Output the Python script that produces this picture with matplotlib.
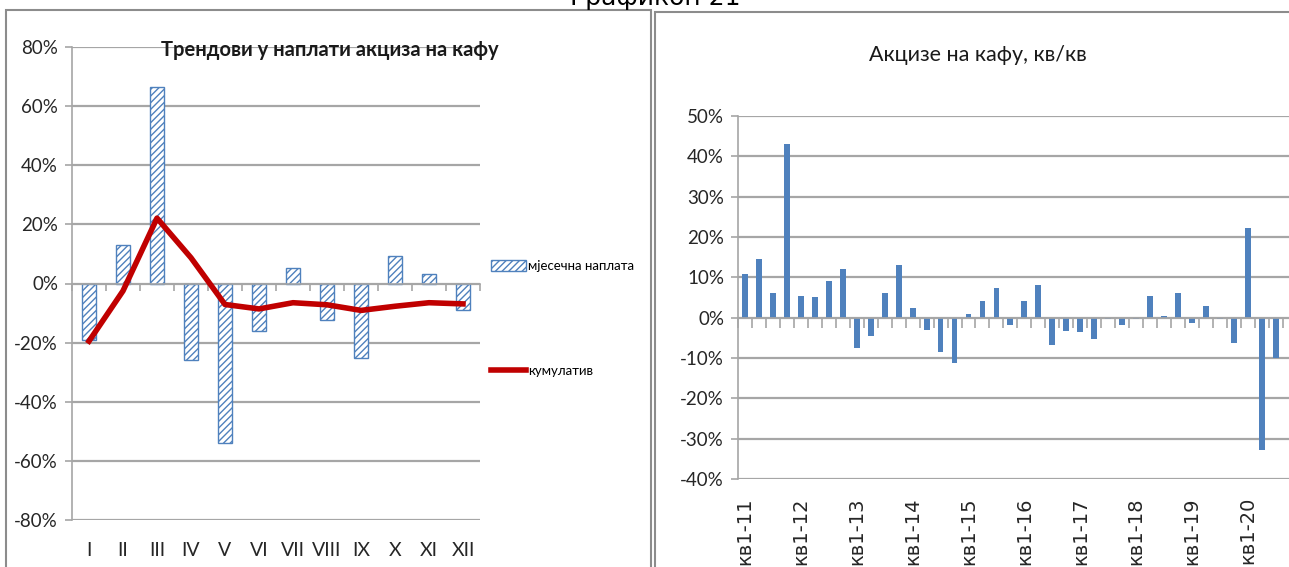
import matplotlib.pyplot as plt
import numpy as np
from matplotlib.patches import Rectangle, Patch
from matplotlib.lines import Line2D
from matplotlib.ticker import PercentFormatter

plt.rcParams['font.family'] = ['Lato', 'DejaVu Sans']
plt.rcParams['axes.unicode_minus'] = False
plt.rcParams['hatch.color'] = '#4f81bd'
plt.rcParams['hatch.linewidth'] = 1.0

# left chart: monthly collection and cumulative, %
months = ['I', 'II', 'III', 'IV', 'V', 'VI', 'VII', 'VIII', 'IX', 'X', 'XI', 'XII']
monthly = [-19.0, 13.1, 66.5, -26.0, -54.1, -15.9, 5.4, -12.3, -25.2, 9.4, 3.3, -8.9]
cumulative = [-19.5, -2.5, 22.1, 8.7, -7.1, -8.6, -6.5, -7.2, -9.1, -7.7, -6.5, -6.9]

# right chart: quarter on quarter, %, Q1-2011 .. Q3-2020
quarterly = [10.8, 14.6, 6.1, 43.1, 5.4, 5.0, 9.2, 12.1, -7.5, -4.5, 6.1, 13.1,
             2.3, -3.0, -8.6, -11.3, 0.8, 4.2, 7.4, -1.7, 4.2, 8.0, -6.7, -3.2,
             -3.6, -5.4, -0.4, -1.7, -0.4, 5.4, 0.3, 6.1, -1.3, 2.9, -0.4, -6.4,
             22.2, -32.8, -9.9]
q_labels = ['кв1-11', 'кв1-12', 'кв1-13', 'кв1-14', 'кв1-15',
            'кв1-16', 'кв1-17', 'кв1-18', 'кв1-19', 'кв1-20']

W, H = 1289, 567
grid_c = '#a6a6a6'
blue = '#4f81bd'
red = '#c00000'
txt_c = '#262626'

fig = plt.figure(figsize=(W / 100, H / 100), dpi=100)


def px(x0, y0, x1, y1):
    return [x0 / W, 1 - y1 / H, (x1 - x0) / W, (y1 - y0) / H]


# chart borders
fig.add_artist(Rectangle((6 / W, -0.1), (651 - 6) / W, 1.1 - 10 / H, fill=False,
                         ec='#8c8c8c', lw=1.5, transform=fig.transFigure))
fig.add_artist(Rectangle((655 / W, -0.1), 1.0, 1.1 - 12 / H, fill=False,
                         ec='#8c8c8c', lw=1.5, transform=fig.transFigure))
fig.text(655 / W, 1 - 5 / H, 'Графикон 21', ha='center', va='baseline',
         fontsize=18, family='DejaVu Sans')


def style(ax, tick_len):
    for s in ['top', 'right']:
        ax.spines[s].set_visible(False)
    ax.spines['left'].set_color(grid_c)
    ax.spines['left'].set_linewidth(1.2)
    ax.spines['bottom'].set_position(('data', 0))
    ax.spines['bottom'].set_color(grid_c)
    ax.spines['bottom'].set_linewidth(1.2)
    ax.yaxis.grid(True, color=grid_c, lw=1.6)
    ax.set_axisbelow(True)
    ax.tick_params(axis='y', length=5, color=grid_c, width=1.2,
                   labelsize=13.5, labelcolor=txt_c, pad=5)
    ax.tick_params(axis='x', which='both', length=tick_len, color=grid_c,
                   width=1.2, labelbottom=False)


# ---- left chart
ax1 = fig.add_axes(px(72, 47, 480, 520))
x1 = np.arange(len(months))
ax1.bar(x1, monthly, width=0.4, color='white', edgecolor=blue, hatch='/////',
        lw=1.0, zorder=2)
ax1.plot(x1, cumulative, color=red, lw=4, zorder=3, solid_joinstyle='round')
ax1.set_xlim(-0.5, len(months) - 0.5)
ax1.set_ylim(-80, 80)
ax1.set_yticks(np.arange(-80, 81, 20))
ax1.yaxis.set_major_formatter(PercentFormatter(decimals=0))
ax1.set_xticks(np.arange(len(months) + 1) - 0.5)
style(ax1, 5)
sec1 = ax1.secondary_xaxis('bottom')
sec1.spines['bottom'].set_visible(False)
sec1.set_xticks(x1, months)
sec1.tick_params(length=0, pad=16, labelsize=14, labelcolor=txt_c)
ax1.text(0.632, 0.993, 'Трендови у наплати акциза на кафу', transform=ax1.transAxes,
         ha='center', va='center', fontsize=14.5, fontweight='bold', color='#1a1a1a')

fig.legend(handles=[Patch(facecolor='white', edgecolor=blue, hatch='/////', lw=1.0),
                    Line2D([], [], color=red, lw=4)],
           labels=['мјесечна наплата', 'кумулатив'],
           loc='upper left', bbox_to_anchor=(486 / W, 1 - 255 / H), frameon=False,
           fontsize=9.5, handlelength=2.6, handleheight=0.9, handletextpad=0.2,
           labelspacing=7.0, borderaxespad=0)

# ---- right chart
ax2 = fig.add_axes(px(738, 116, 738 + 40 * 13.97, 479))
x2 = np.arange(len(quarterly))
ax2.bar(x2, quarterly, width=0.42, color=blue, zorder=2)
ax2.set_xlim(-0.5, len(quarterly) + 0.5)
ax2.set_ylim(-40, 50)
ax2.set_yticks(np.arange(-40, 51, 10))
ax2.yaxis.set_major_formatter(PercentFormatter(decimals=0))
ax2.set_xticks(np.arange(len(quarterly) + 2) - 0.5)
style(ax2, 7)
sec2 = ax2.secondary_xaxis('bottom')
sec2.spines['bottom'].set_visible(False)
sec2.set_xticks(np.arange(0, len(quarterly), 4), q_labels)
sec2.tick_params(length=0, pad=13, labelsize=14, labelcolor=txt_c,
                 labelrotation=90)
for t in sec2.get_xticklabels():
    t.set_family('DejaVu Sans')
    t.set_va('top')
fig.text(978 / W, 1 - 55 / H, 'Акцизе на кафу, кв/кв', ha='center', va='center',
         fontsize=15.5, color='#1a1a1a')

fig.savefig('out.png', dpi=100)
